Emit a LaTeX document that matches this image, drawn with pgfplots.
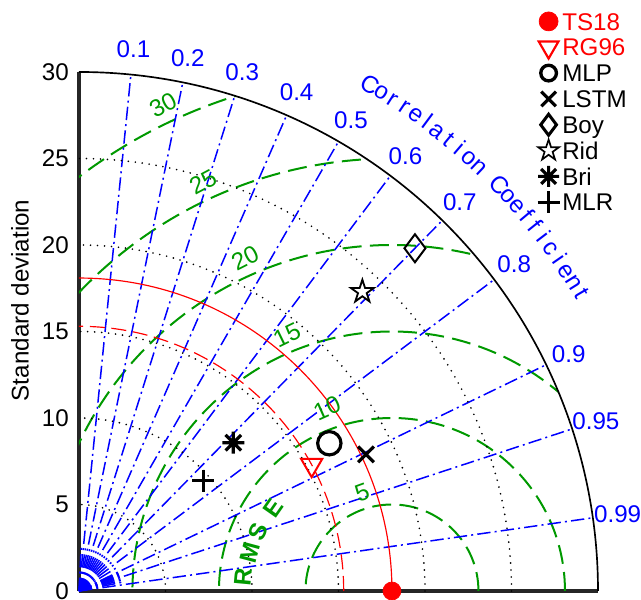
\documentclass[border=0pt]{standalone}
\usepackage{fontspec}
\setmainfont{Liberation Sans}
\usepackage{pgfplots}
\pgfplotsset{compat=1.18}
\usetikzlibrary{plotmarks}
\definecolor{mgreen}{rgb}{0,0.6,0}
\definecolor{mblue}{rgb}{0,0,1}
\def\U{10.38}
\newcommand\fs{\fontsize{14.5}{17}\selectfont}
\pgfdeclareplotmark{ast8}{%
 \pgfpathmoveto{\pgfqpoint{0pt}{\pgfplotmarksize}}\pgfpathlineto{\pgfqpoint{0pt}{-\pgfplotmarksize}}%
 \pgfpathmoveto{\pgfqpoint{\pgfplotmarksize}{0pt}}\pgfpathlineto{\pgfqpoint{-\pgfplotmarksize}{0pt}}%
 \pgfpathmoveto{\pgfqpoint{.7071\pgfplotmarksize}{.7071\pgfplotmarksize}}\pgfpathlineto{\pgfqpoint{-.7071\pgfplotmarksize}{-.7071\pgfplotmarksize}}%
 \pgfpathmoveto{\pgfqpoint{-.7071\pgfplotmarksize}{.7071\pgfplotmarksize}}\pgfpathlineto{\pgfqpoint{.7071\pgfplotmarksize}{-.7071\pgfplotmarksize}}%
 \pgfusepathqstroke}
\pgfdeclareplotmark{ostar}{%
 \pgfpathmoveto{\pgfpointpolar{90}{\pgfplotmarksize}}%
 \pgfpathlineto{\pgfpointpolar{126}{.382\pgfplotmarksize}}%
 \pgfpathlineto{\pgfpointpolar{162}{\pgfplotmarksize}}%
 \pgfpathlineto{\pgfpointpolar{198}{.382\pgfplotmarksize}}%
 \pgfpathlineto{\pgfpointpolar{234}{\pgfplotmarksize}}%
 \pgfpathlineto{\pgfpointpolar{270}{.382\pgfplotmarksize}}%
 \pgfpathlineto{\pgfpointpolar{306}{\pgfplotmarksize}}%
 \pgfpathlineto{\pgfpointpolar{342}{.382\pgfplotmarksize}}%
 \pgfpathlineto{\pgfpointpolar{18}{\pgfplotmarksize}}%
 \pgfpathlineto{\pgfpointpolar{54}{.382\pgfplotmarksize}}%
 \pgfpathclose
 \pgfusepathqfillstroke}
\newcommand\cc[2]{\node[rotate={60.1-1.341*#1-90},anchor=base,text=mblue,font=\fs,inner sep=0pt] at (axis cs:{33.3*cos(60.1-1.341*#1)},{33.3*sin(60.1-1.341*#1)}) {#2};}
\tikzset{
 rmsg/.style={mgreen, line width=1.2pt, dash pattern=on 11.4pt off 5pt},
 corr/.style={mblue, line width=0.9pt, dash pattern=on 8pt off 2.5pt on 1.2pt off 2.5pt},
 stddot/.style={black, line width=1.1pt, line cap=round, dash pattern=on 0pt off 4.2pt},
}
\begin{document}
\begin{tikzpicture}
\begin{axis}[
 x=\U pt, y=\U pt,
 xmin=0,xmax=30,ymin=0,ymax=30,
 clip=false,
 axis lines*=left,
 axis line style={line width=2.4pt, black!85},
 xtick=\empty,
 ytick={0,5,...,30},
 major tick length=0pt,
 tick label style={font=\fs},
 yticklabel style={xshift=-2.6pt},
 /pgf/number format/assume math mode=true,
 legend style={at={(0.883,1.123)}, anchor=north west, draw=none, fill=none, inner xsep=0pt, inner ysep=0pt, row sep=0pt, font=\fs, nodes={inner xsep=1.6pt, inner ysep=0pt, text height=12.95pt, text depth=2.55pt}},
 legend cell align=left,
 legend image code/.code={\draw[mark repeat=2,mark phase=2,#1] plot coordinates {(0cm,0cm)(0.3cm,0cm)(0.6cm,0cm)};},
]
% RMS circles
\begin{scope}
\clip (axis cs:0,0) -- (axis cs:30,0) arc[start angle=0,end angle=90,radius=30*\U pt] -- cycle;
\pgfplotsinvokeforeach{5,10,15,20,25,30}{\draw[rmsg] (axis cs:18.09,0) circle[radius=#1*\U pt];}
\end{scope}
% correlation lines
\pgfplotsinvokeforeach{0.1,0.2,0.3,0.4,0.5,0.6,0.7,0.8,0.9,0.95,0.99}{
 \draw[corr] (axis cs:0,0) -- (axis cs:{30*#1},{30*sqrt(1-(#1)^2)});
 \node[text=mblue,font=\fs,inner sep=0pt] at (axis cs:{31.45*#1},{31.45*sqrt(1-(#1)^2)}) {#1};
}
\pgfplotsinvokeforeach{0.05,0.15,0.25,0.35,0.45,0.55,0.65,0.75,0.85,0.91,0.92,0.93,0.94,0.96,0.97,0.98}{
 \draw[corr] (axis cs:0,0) -- (axis cs:{2.6*#1},{2.6*sqrt(1-(#1)^2)});
}
\fill[mblue] (axis cs:0,0) -- (axis cs:0.45,0) arc[start angle=0,end angle=90,radius=0.45*\U pt] -- cycle;
% std arcs
\pgfplotsinvokeforeach{5,10,15,20,25}{\draw[stddot] (axis cs:#1,0) arc[start angle=0,end angle=90,radius=#1*\U pt];}
\draw[red, line width=0.7pt] (axis cs:18.09,0) arc[start angle=0,end angle=90,radius=18.09*\U pt];
\draw[red, line width=0.7pt, dash pattern=on 9pt off 4pt] (axis cs:15.3,0) arc[start angle=0,end angle=90,radius=15.3*\U pt];
\draw[black, line width=1pt] (axis cs:30,0) arc[start angle=0,end angle=90,radius=30*\U pt];
% RMS labels
\node[text=mgreen,font=\fs,rotate=28] at (axis cs:4.86,28.09) {30};
\node[text=mgreen,font=\fs,rotate=28] at (axis cs:7.17,23.64) {25};
\node[text=mgreen,font=\fs,rotate=27] at (axis cs:9.60,19.25) {20};
\node[text=mgreen,font=\fs,rotate=26] at (axis cs:12.02,14.80) {15};
\node[text=mgreen,font=\fs,rotate=24] at (axis cs:14.34,10.58) {10};
\node[text=mgreen,font=\fs,rotate=20] at (axis cs:16.36,5.72) {5};
\node[text=mgreen,font=\fs\bfseries,rotate=84.6] at (axis cs:9.48,0.81) {R};
\node[text=mgreen,font=\fs\bfseries,rotate=75] at (axis cs:9.88,2.20) {M};
\node[text=mgreen,font=\fs\bfseries,rotate=66.2] at (axis cs:10.35,3.41) {S};
\node[text=mgreen,font=\fs\bfseries,rotate=55.1] at (axis cs:11.21,4.80) {E};
% Correlation Coefficient
\cc{0}{C}\cc{1}{o}\cc{2}{r}\cc{3}{r}\cc{4}{e}\cc{5}{l}\cc{6}{a}\cc{7}{t}\cc{8}{i}\cc{9}{o}\cc{10}{n}
\cc{12}{C}\cc{13}{o}\cc{14}{e}\cc{15}{f}\cc{16}{f}\cc{17}{i}\cc{18}{c}\cc{19}{i}\cc{20}{e}\cc{21}{n}\cc{22}{t}
\node[font=\fs,rotate=90] at (axis cs:-3.41,16.8) {Standard deviation};
% data
\addplot[forget plot, only marks, mark=*, red, mark size=5.4pt, mark options={fill=red}] coordinates {(18.09,0)};
\addplot[forget plot, only marks, mark=triangle, red, mark size=7.3pt, mark options={rotate=180, line width=1.2pt, fill=none}] coordinates {(13.45,7.28)};
\addplot[forget plot, only marks, mark=o, black, mark size=7pt, mark options={line width=1.9pt}] coordinates {(14.47,8.54)};
\addplot[forget plot, only marks, mark=x, black, mark size=6.7pt, mark options={line width=1.9pt}] coordinates {(16.59,7.90)};
\addplot[forget plot, only marks, mark=diamond, black, mark size=8.4pt, mark options={line width=1.2pt}] coordinates {(19.42,19.81)};
\addplot[forget plot, only marks, mark=ostar, black, mark size=7.2pt, mark options={line width=1.1pt, fill=white}] coordinates {(16.38,17.30)};
\addplot[forget plot, only marks, mark=ast8, black, mark size=6.6pt, mark options={line width=1.9pt}] coordinates {(8.92,8.57)};
\addplot[forget plot, only marks, mark=+, black, mark size=6.6pt, mark options={line width=1.9pt}] coordinates {(7.19,6.38)};
% legend
\addlegendimage{only marks, mark=*, red, mark size=5.7pt, mark options={fill=red}}
\addlegendentry{\textcolor{red}{TS18}}
\addlegendimage{only marks, mark=triangle, red, mark size=6.8pt, mark options={rotate=180, line width=1.3pt, fill=none}}
\addlegendentry{\textcolor{red}{RG96}}
\addlegendimage{only marks, mark=o, black, mark size=4.7pt, mark options={line width=2pt}}
\addlegendentry{MLP}
\addlegendimage{only marks, mark=x, black, mark size=6.2pt, mark options={line width=1.9pt}}
\addlegendentry{LSTM}
\addlegendimage{only marks, mark=diamond, black, mark size=6.3pt, mark options={line width=1.8pt}}
\addlegendentry{Boy}
\addlegendimage{only marks, mark=ostar, black, mark size=6.6pt, mark options={line width=1pt, fill=white}}
\addlegendentry{Rid}
\addlegendimage{only marks, mark=ast8, black, mark size=6.3pt, mark options={line width=1.9pt}}
\addlegendentry{Bri}
\addlegendimage{only marks, mark=+, black, mark size=6.6pt, mark options={line width=1.9pt}}
\addlegendentry{MLR}
\coordinate (BL) at (axis cs:-4.566,-0.520);
\coordinate (TR) at (axis cs:32.486,34.162);
\end{axis}
\pgfresetboundingbox
\path[use as bounding box] (BL) rectangle (TR);
\end{tikzpicture}
\end{document}
